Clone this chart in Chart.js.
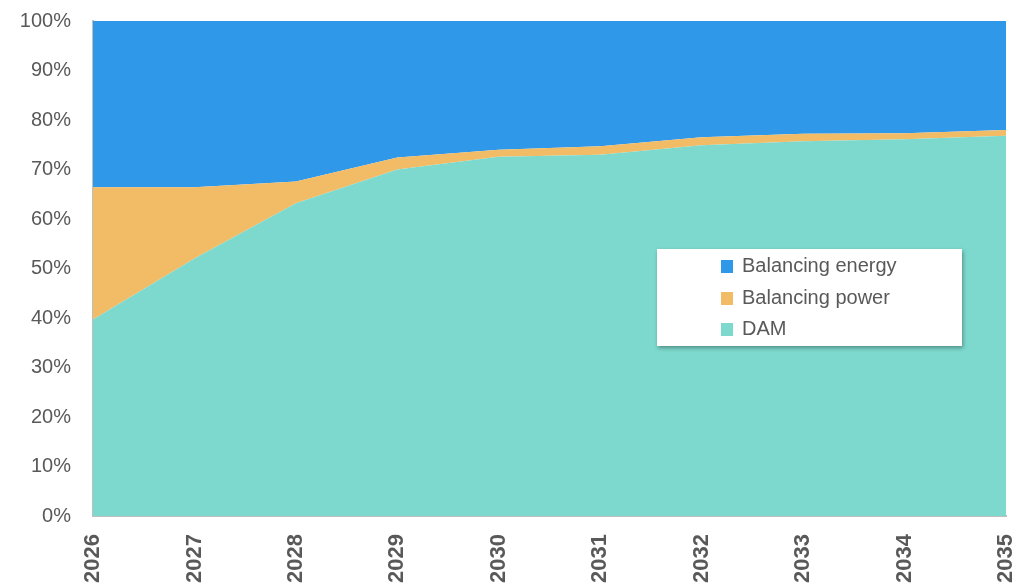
<!DOCTYPE html>
<html>
<head>
<meta charset="utf-8">
<script src="https://cdn.jsdelivr.net/npm/chart.js@4"></script>
<style>
  body { margin: 0; background: #fff; }
  #wrap { position: relative; width: 1019px; height: 587px; overflow: hidden; }
  #legend {
    position: absolute; left: 657px; top: 249px; width: 305px; height: 97px;
    background: #fff; box-shadow: 1px 2px 4px rgba(0,0,0,0.35);
    font-family: 'Liberation Sans', Arial, sans-serif; font-size: 20px; color: #595959;
  }
  .item { position: absolute; left: 64px; height: 22px; line-height: 22px; }
  .item span { display: inline-block; width: 12px; height: 13px; margin-right: 9px; vertical-align: -1px; }
</style>
</head>
<body>
<div id="wrap">
  <canvas id="grafico" width="1019" height="587"></canvas>
  <div id="legend"></div>
</div>
<script>
// datos (porcentaje del total)
const anios = ['2026', '2027', '2028', '2029', '2030', '2031', '2032', '2033', '2034', '2035'];
const dam = [39.7, 52.0, 63.2, 70.0, 72.6, 73.0, 74.9, 75.7, 76.1, 76.8];
const balancingPower = [26.7, 14.4, 4.4, 2.4, 1.4, 1.7, 1.6, 1.5, 1.2, 1.2];
const balancingEnergy = [33.6, 33.6, 32.4, 27.6, 26.0, 25.3, 23.5, 22.8, 22.7, 22.0];
const ticksY = [0, 10, 20, 30, 40, 50, 60, 70, 80, 90, 100];

const colores = { dam: '#7DD9CD', power: '#F2BB66', energy: '#2F98E8' };
const gris = '#595959';

const ctx = document.getElementById('grafico').getContext('2d');
const grafico = new Chart(ctx, {
    type: 'line',
    data: {
        labels: anios,
        datasets: [
            { label: 'DAM', data: dam, backgroundColor: colores.dam, fill: 'origin' },
            { label: 'Balancing power', data: balancingPower, backgroundColor: colores.power, fill: '-1' },
            { label: 'Balancing energy', data: balancingEnergy, backgroundColor: colores.energy, fill: '-1' }
        ]
    },
    options: {
        responsive: false,
        animation: false,
        elements: {
            point: { radius: 0 },
            line: { borderWidth: 0, tension: 0 }
        },
        layout: { padding: { top: 21, right: 13, left: 0, bottom: 0 } },
        plugins: { legend: { display: false }, tooltip: { enabled: false } },
        scales: {
            x: {
                offset: false,
                grid: { display: false, drawTicks: false },
                border: { display: true, color: '#BFBFBF', width: 2 },
                ticks: {
                    minRotation: 90, maxRotation: 90, autoSkip: false, padding: 18,
                    color: gris, font: { family: 'Liberation Sans', size: 22, weight: 'bold' }
                },
                afterFit: scale => {
                    scale.height = 71;
                    scale.paddingLeft = 0;
                    scale.paddingRight = 0;
                }
            },
            y: {
                stacked: true,
                min: 0, max: 100,
                afterBuildTicks: scale => { scale.ticks = ticksY.map(v => ({ value: v })); },
                grid: { display: false, drawTicks: false },
                border: { display: true, color: '#BFBFBF', width: 2 },
                ticks: {
                    padding: 22, color: gris,
                    font: { family: 'Liberation Sans', size: 20 },
                    callback: v => v + '%'
                },
                afterFit: scale => {
                    scale.width = 93;
                    scale.paddingTop = 0;
                    scale.paddingBottom = 0;
                }
            }
        }
    }
});

// leyenda en html, en el orden del original
const leyenda = document.getElementById('legend');
const filas = [
    { texto: 'Balancing energy', color: colores.energy, top: 5 },
    { texto: 'Balancing power', color: colores.power, top: 37 },
    { texto: 'DAM', color: colores.dam, top: 68 }
];
filas.forEach(f => {
    const div = document.createElement('div');
    div.className = 'item';
    div.style.top = f.top + 'px';
    div.innerHTML = `<span style="background:${f.color}"></span>${f.texto}`;
    leyenda.appendChild(div);
});
</script>
</body>
</html>
